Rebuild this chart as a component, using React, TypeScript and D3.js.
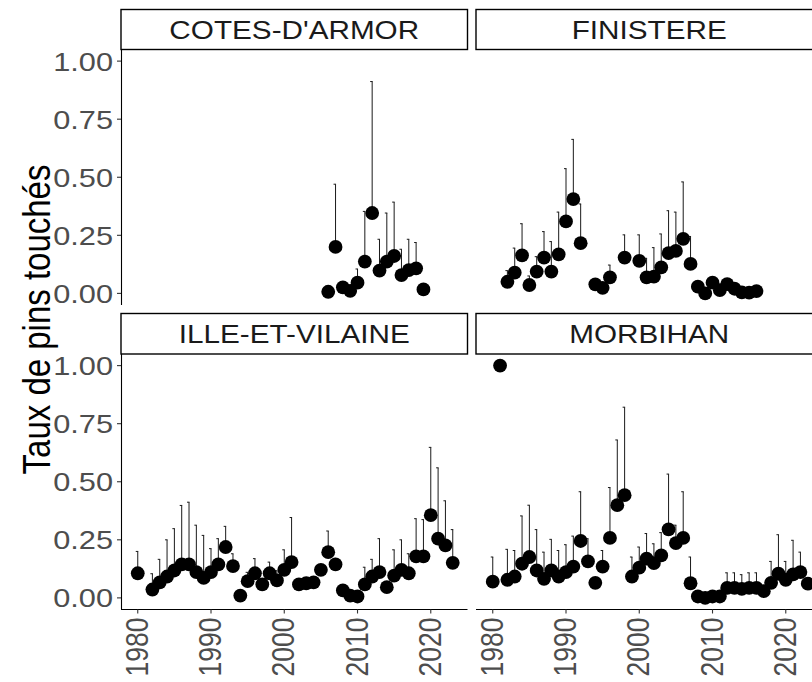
import * as d3 from "d3";

// years, rate and upper bound of the interval, per département
const cotesYears = [2006, 2007, 2008, 2009, 2010, 2011, 2012, 2013, 2014, 2015, 2016, 2017, 2018, 2019];
const cotesRate = [0.007, 0.2, 0.026, 0.011, 0.046, 0.137, 0.346, 0.098, 0.137, 0.161, 0.079, 0.1, 0.108, 0.017];
const cotesUpper = [0.007, 0.47, 0.026, 0.011, 0.105, 0.353, 0.912, 0.233, 0.346, 0.393, 0.19, 0.233, 0.219, 0.017];

const finYears = [1982, 1983, 1984, 1985, 1986, 1987, 1988, 1989, 1990, 1991, 1992, 1994, 1995, 1996, 1998, 2000,
  2001, 2002, 2003, 2004, 2005, 2006, 2007, 2008, 2009, 2010, 2011, 2012, 2013, 2014, 2015, 2016];
const finRate = [0.05, 0.089, 0.164, 0.036, 0.094, 0.154, 0.094, 0.168, 0.31, 0.406, 0.216, 0.039, 0.024, 0.069, 0.154, 0.14,
  0.069, 0.072, 0.112, 0.173, 0.183, 0.235, 0.127, 0.029, 0.0, 0.046, 0.014, 0.04, 0.02, 0.004, 0.003, 0.01];
const finUpper = [0.098, 0.195, 0.3, 0.075, 0.158, 0.266, 0.223, 0.35, 0.537, 0.663, 0.385, 0.039, 0.024, 0.122, 0.252, 0.252,
  0.151, 0.197, 0.256, 0.356, 0.35, 0.48, 0.245, 0.029, 0.0, 0.046, 0.014, 0.04, 0.02, 0.004, 0.003, 0.01];

const illeYears = [1980, 1982, 1983, 1984, 1985, 1986, 1987, 1988, 1989, 1990, 1991, 1992, 1993, 1994, 1995, 1996, 1997,
  1998, 1999, 2000, 2001, 2002, 2003, 2004, 2005, 2006, 2007, 2008, 2009, 2010, 2011, 2012, 2013, 2014, 2015, 2016,
  2017, 2018, 2019, 2020, 2021, 2022, 2023];
const illeRate = [0.106, 0.036, 0.067, 0.092, 0.118, 0.144, 0.144, 0.111, 0.086, 0.111, 0.144, 0.219, 0.137, 0.01, 0.072,
  0.106, 0.058, 0.106, 0.075, 0.121, 0.154, 0.058, 0.063, 0.067, 0.121, 0.197, 0.144, 0.032, 0.01, 0.006, 0.058, 0.092,
  0.111, 0.046, 0.096, 0.121, 0.106, 0.179, 0.179, 0.356, 0.255, 0.226, 0.151];
const illeUpper = [0.2, 0.104, 0.166, 0.25, 0.298, 0.398, 0.412, 0.313, 0.269, 0.212, 0.255, 0.308, 0.19, 0.01, 0.11,
  0.169, 0.058, 0.154, 0.117, 0.207, 0.346, 0.07, 0.063, 0.067, 0.121, 0.288, 0.17, 0.05, 0.01, 0.006, 0.132, 0.166,
  0.255, 0.046, 0.207, 0.25, 0.19, 0.341, 0.337, 0.648, 0.56, 0.418, 0.294];

const morbYears = [1980, 1981, 1982, 1983, 1984, 1985, 1986, 1987, 1988, 1989, 1990, 1991, 1992, 1993, 1994, 1995, 1996,
  1997, 1998, 1999, 2000, 2001, 2002, 2003, 2004, 2005, 2006, 2007, 2008, 2009, 2010, 2011, 2012, 2013, 2014, 2015,
  2016, 2017, 2018, 2019, 2020, 2021, 2022, 2023];
const morbRate = [0.07, 1.0, 0.078, 0.092, 0.147, 0.176, 0.118, 0.082, 0.118, 0.092, 0.111, 0.135, 0.245, 0.157, 0.065,
  0.135, 0.258, 0.399, 0.442, 0.092, 0.13, 0.169, 0.15, 0.183, 0.295, 0.236, 0.258, 0.063, 0.006, 0.0, 0.006, 0.006,
  0.043, 0.043, 0.039, 0.043, 0.043, 0.029, 0.065, 0.104, 0.078, 0.101, 0.111, 0.061];
const morbUpper = [0.176, 1.0, 0.209, 0.204, 0.353, 0.399, 0.294, 0.197, 0.252, 0.204, 0.229, 0.266, 0.457, 0.255, 0.065,
  0.204, 0.475, 0.68, 0.821, 0.176, 0.219, 0.277, 0.233, 0.281, 0.533, 0.313, 0.457, 0.176, 0.006, 0.0, 0.006, 0.006,
  0.108, 0.108, 0.1, 0.108, 0.108, 0.029, 0.157, 0.272, 0.157, 0.248, 0.197, 0.061];

const xTicks = [1980, 1990, 2000, 2010, 2020];
const yTicks = [0, 0.25, 0.5, 0.75, 1];
const yTitle = "Taux de pins touchés";

const W = 812;
const H = 682;
const font = "'Liberation Sans', Arial, sans-serif";
const sx = 1.16; // the reference text is a little wider than tall

const colX = [[121, 467.5], [476, 822.5]];
const rowY = [
  { strip: 9.5, top: 49.5, bottom: 305 },
  { strip: 313.5, top: 354, bottom: 609.5 },
];

const panels = [
  { name: "COTES-D'ARMOR", years: cotesYears, rate: cotesRate, upper: cotesUpper, col: 0, row: 0 },
  { name: "FINISTERE", years: finYears, rate: finRate, upper: finUpper, col: 1, row: 0 },
  { name: "ILLE-ET-VILAINE", years: illeYears, rate: illeRate, upper: illeUpper, col: 0, row: 1 },
  { name: "MORBIHAN", years: morbYears, rate: morbRate, upper: morbUpper, col: 1, row: 1 },
];

function Panel({ p }: { p: typeof panels[number] }) {
  const [x0, x1] = colX[p.col];
  const r = rowY[p.row];
  const x = d3.scaleLinear().domain([1980 - 43 * 0.05, 2023 + 43 * 0.05]).range([x0 + 1, x1 + 1]);
  const y = d3.scaleLinear().domain([-0.05, 1.05]).range([r.bottom, r.top]);
  const pts = p.years.map((yr, i) => ({ yr, v: p.rate[i], up: p.upper[i] }));
  return (
    <g>
      <rect x={x0} y={r.strip} width={x1 - x0} height={r.top - r.strip} fill="#fff" stroke="#000" strokeWidth={1.4} />
      <g transform={`translate(${(x0 + x1) / 2},${r.strip + 29}) scale(${sx},1)`}>
        <text textAnchor="middle" fontFamily={font} fontSize={25.6} fill="#1a1a1a">{p.name}</text>
      </g>
      {pts.filter(d => d.up > d.v + 0.001).map((d, i) => (
        <g key={"e" + i} stroke="#1a1a1a" strokeWidth={1}>
          <line x1={x(d.yr)} x2={x(d.yr)} y1={y(d.v)} y2={y(d.up)} />
          <line x1={x(d.yr) - 2} x2={x(d.yr) + 0.5} y1={y(d.up)} y2={y(d.up)} />
        </g>
      ))}
      {pts.map((d, i) => (
        <circle key={"p" + i} cx={x(d.yr)} cy={y(d.v)} r={6.9} fill="#000" />
      ))}
      {p.col === 0 && (
        <g>
          <line x1={x0 + 0.5} x2={x0 + 0.5} y1={r.top} y2={r.bottom} stroke="#000" strokeWidth={1.1} />
          {yTicks.map(t => (
            <g key={t}>
              <line x1={x0 - 4} x2={x0} y1={y(t)} y2={y(t)} stroke="#333" strokeWidth={1.1} />
              <g transform={`translate(${x0 - 8},${y(t) + 9.5}) scale(${sx},1)`}>
                <text textAnchor="end" fontFamily={font} fontSize={26.5} fill="#4d4d4d">{d3.format(".2f")(t)}</text>
              </g>
            </g>
          ))}
        </g>
      )}
      {p.row === 1 && (
        <g>
          <line x1={x0} x2={x1} y1={r.bottom} y2={r.bottom} stroke="#000" strokeWidth={1.1} />
          {xTicks.map(t => (
            <g key={t}>
              <line x1={x(t)} x2={x(t)} y1={r.bottom} y2={r.bottom + 4} stroke="#333" strokeWidth={1.1} />
              <g transform={`translate(${x(t) + 10},${r.bottom + 8}) scale(${sx},1) rotate(-90)`}>
                <text textAnchor="end" fontFamily={font} fontSize={26.5} fill="#4d4d4d">{t}</text>
              </g>
            </g>
          ))}
        </g>
      )}
    </g>
  );
}

export default function App() {
  return (
    <div style={{ position: "absolute", left: 0, top: 0 }}>
      <svg width={W} height={H} style={{ display: "block", background: "#fff" }}>
        <rect width={W} height={H} fill="#fff" />
        {panels.map(p => <Panel key={p.name} p={p} />)}
        <g transform={`translate(50,${(rowY[0].strip + rowY[1].bottom) / 2 + 10}) scale(${sx},1) rotate(-90)`}>
          <text textAnchor="middle" fontFamily={font} fontSize={33} fill="#000">{yTitle}</text>
        </g>
      </svg>
    </div>
  );
}
